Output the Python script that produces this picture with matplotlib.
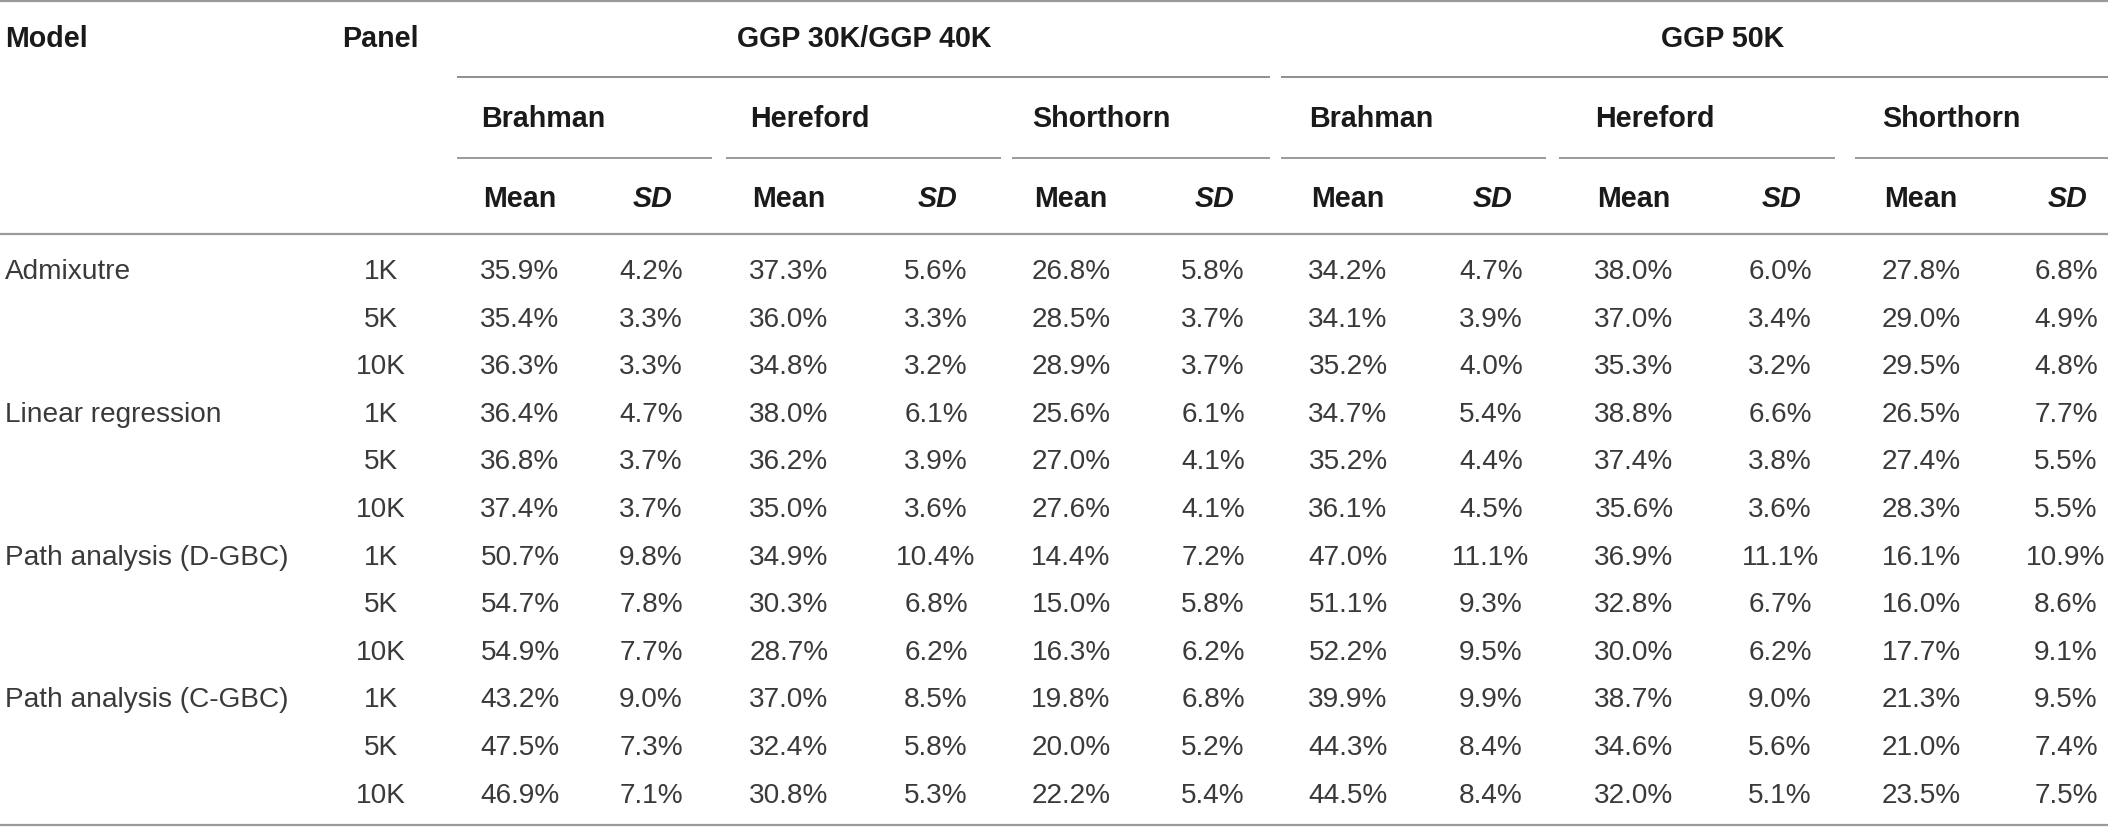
import matplotlib
matplotlib.use("Agg")
import matplotlib.pyplot as plt

# table content
models = ["Admixutre", "Linear regression", "Path analysis (D-GBC)", "Path analysis (C-GBC)"]
panels = ["1K", "5K", "10K"]
groups = ["GGP 30K/GGP 40K", "GGP 50K"]
breeds = ["Brahman", "Hereford", "Shorthorn"]

# GGP 30K/GGP 40K (rows: model x panel)
brahman_30_mean = [35.9, 35.4, 36.3, 36.4, 36.8, 37.4, 50.7, 54.7, 54.9, 43.2, 47.5, 46.9]
brahman_30_sd = [4.2, 3.3, 3.3, 4.7, 3.7, 3.7, 9.8, 7.8, 7.7, 9.0, 7.3, 7.1]
hereford_30_mean = [37.3, 36.0, 34.8, 38.0, 36.2, 35.0, 34.9, 30.3, 28.7, 37.0, 32.4, 30.8]
hereford_30_sd = [5.6, 3.3, 3.2, 6.1, 3.9, 3.6, 10.4, 6.8, 6.2, 8.5, 5.8, 5.3]
shorthorn_30_mean = [26.8, 28.5, 28.9, 25.6, 27.0, 27.6, 14.4, 15.0, 16.3, 19.8, 20.0, 22.2]
shorthorn_30_sd = [5.8, 3.7, 3.7, 6.1, 4.1, 4.1, 7.2, 5.8, 6.2, 6.8, 5.2, 5.4]

# GGP 50K
brahman_50_mean = [34.2, 34.1, 35.2, 34.7, 35.2, 36.1, 47.0, 51.1, 52.2, 39.9, 44.3, 44.5]
brahman_50_sd = [4.7, 3.9, 4.0, 5.4, 4.4, 4.5, 11.1, 9.3, 9.5, 9.9, 8.4, 8.4]
hereford_50_mean = [38.0, 37.0, 35.3, 38.8, 37.4, 35.6, 36.9, 32.8, 30.0, 38.7, 34.6, 32.0]
hereford_50_sd = [6.0, 3.4, 3.2, 6.6, 3.8, 3.6, 11.1, 6.7, 6.2, 9.0, 5.6, 5.1]
shorthorn_50_mean = [27.8, 29.0, 29.5, 26.5, 27.4, 28.3, 16.1, 16.0, 17.7, 21.3, 21.0, 23.5]
shorthorn_50_sd = [6.8, 4.9, 4.8, 7.7, 5.5, 5.5, 10.9, 8.6, 9.1, 9.5, 7.4, 7.5]

columns = [
    (brahman_30_mean, brahman_30_sd), (hereford_30_mean, hereford_30_sd),
    (shorthorn_30_mean, shorthorn_30_sd), (brahman_50_mean, brahman_50_sd),
    (hereford_50_mean, hereford_50_sd), (shorthorn_50_mean, shorthorn_50_sd),
]

plt.rcParams['font.family'] = ['Liberation Sans', 'DejaVu Sans']

W, H = 2108, 828
fig = plt.figure(figsize=(W / 100, H / 100), dpi=100)
ax = fig.add_axes([0, 0, 1, 1])
ax.set_xlim(0, W)
ax.set_ylim(H, 0)
ax.axis("off")

body_fs = 20.2
head_fs = 20.6
txt_col = "#3a3a3a"
head_col = "#1a1a1a"
rule_col = "#9a9a9a"

# column geometry (pixels)
mean_x = [520, 789, 1071, 1348, 1634, 1921]
sd_x = [651, 936, 1213, 1491, 1780, 2066]
breed_lines = [(457, 712), (726, 1001), (1012, 1270), (1281, 1546), (1559, 1835), (1855, 2108)]
group_lines = [(457, 1270), (1281, 2108)]
group_x = [864, 1723]

y_head1, y_line1 = 39, 78
y_head2, y_line2 = 119, 159
y_head3, y_line3 = 199, 235
row0, row_step = 272, 47.6

# rules
ax.plot([0, W], [2, 2], color=rule_col, lw=1.6, solid_capstyle="butt")
ax.plot([0, W], [y_line3, y_line3], color=rule_col, lw=1.6, solid_capstyle="butt")
ax.plot([0, W], [826, 826], color=rule_col, lw=1.6, solid_capstyle="butt")
for x0, x1 in group_lines:
    ax.plot([x0, x1], [y_line1, y_line1], color="#707070", lw=1.1, solid_capstyle="butt")
for x0, x1 in breed_lines:
    ax.plot([x0, x1], [y_line2, y_line2], color="#9a9a9a", lw=1.4, solid_capstyle="butt")

# headers
ax.text(5, y_head1, "Model", fontsize=head_fs, fontweight="bold", color=head_col, va="center", ha="left")
ax.text(342, y_head1, "Panel", fontsize=head_fs, fontweight="bold", color=head_col, va="center", ha="left")
for gx, g in zip(group_x, groups):
    ax.text(gx, y_head1, g, fontsize=head_fs, fontweight="bold", color=head_col, va="center", ha="center")
for i, (x0, x1) in enumerate(breed_lines):
    ax.text(mean_x[i] - 39, y_head2, breeds[i % 3], fontsize=head_fs, fontweight="bold",
            color=head_col, va="center", ha="left")
    ax.text(mean_x[i] - 37, y_head3, "Mean", fontsize=head_fs, fontweight="bold",
            color=head_col, va="center", ha="left")
    ax.text(sd_x[i] + 21, y_head3, "SD", fontsize=head_fs, fontweight="bold", fontstyle="italic",
            color=head_col, va="center", ha="right")

# body
for r in range(len(models) * len(panels)):
    y = row0 + r * row_step
    if r % 3 == 0:
        ax.text(5, y, models[r // 3], fontsize=body_fs, color=txt_col, va="center", ha="left")
    ax.text(381, y, panels[r % 3], fontsize=body_fs, color=txt_col, va="center", ha="center")
    for i, (m, s) in enumerate(columns):
        ax.text(mean_x[i], y, f"{m[r]:.1f}%", fontsize=body_fs, color=txt_col, va="center", ha="center")
        ax.text(sd_x[i], y, f"{s[r]:.1f}%", fontsize=body_fs, color=txt_col, va="center", ha="center")

fig.savefig("out.png", dpi=100)
